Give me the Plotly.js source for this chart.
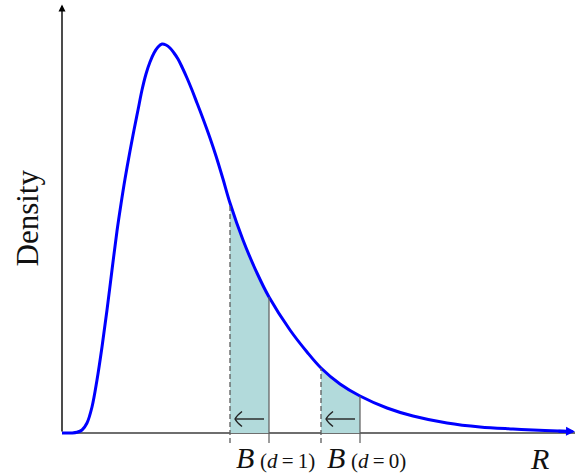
<!DOCTYPE html>
<html>
<head>
<meta charset="utf-8">
<script src="https://cdn.plot.ly/plotly-3.0.1.min.js"></script>
<style>
  html, body { margin: 0; padding: 0; background: #fff; }
  #chart { width: 575px; height: 476px; }
</style>
</head>
<body>
<div id="chart"></div>
<script>
// Density curve of R
const curveR = [0, 0.20, 0.30, 0.40, 0.50, 0.60, 0.70, 0.80, 0.90, 1.00, 1.10, 1.18, 1.26, 1.36, 1.44,
  1.52, 1.60, 1.68, 1.76, 1.84, 1.92, 2.00, 2.08, 2.16, 2.24, 2.32, 2.40, 2.50, 2.60, 2.70, 2.80, 2.96,
  3.08, 3.22, 3.36, 3.62, 3.90, 4.14, 4.56, 4.90, 5.18, 5.56, 5.96, 6.50, 7.02, 7.70, 8.36, 9.02, 9.66, 10.20];
const curveDensity = [0, 0, 0.0007, 0.003, 0.010, 0.026, 0.053, 0.086, 0.123, 0.163, 0.202, 0.229, 0.254,
  0.282, 0.303, 0.323, 0.343, 0.359, 0.371, 0.380, 0.386, 0.389, 0.388, 0.385, 0.380, 0.374, 0.366, 0.355,
  0.343, 0.330, 0.317, 0.295, 0.277, 0.254, 0.230, 0.193, 0.160, 0.136, 0.103, 0.081, 0.065, 0.049, 0.037,
  0.025, 0.017, 0.010, 0.006, 0.004, 0.0025, 0.0015];

// Each band runs from the shifted bound (dashed) up to the original bound (solid)
const bandNames = ["(<i>d</i>\u2009=\u20091)", "(<i>d</i>\u2009=\u20090)"];
const bandLow = [3.36, 5.18];
const bandHigh = [4.14, 5.96];

const xLabel = "<i>R</i>";
const yLabel = "Density";

const serif = "Liberation Serif, DejaVu Serif, serif";
const xMin = -1.24, xMax = 10.26, yMin = -0.043, yMax = 0.428;
const tickBottom = -0.010;
const smooth = 1.0;

function densityAt(r) {
  return curveDensity[curveR.indexOf(r)];
}

const traces = [];
const shapes = [];
const annotations = [];

bandLow.forEach((lo, k) => {
  const hi = bandHigh[k];
  const xs = [], ys = [];
  curveR.forEach((r, i) => { if (r >= lo && r <= hi) { xs.push(r); ys.push(curveDensity[i]); } });
  traces.push({
    x: xs, y: ys, type: "scatter", mode: "lines", fill: "tozeroy",
    fillcolor: "#b2dadb", line: { width: 0, shape: "spline", smoothing: smooth },
    hoverinfo: "skip", showlegend: false
  });
  shapes.push({ type: "line", xref: "x", yref: "y", x0: lo, x1: lo, y0: tickBottom, y1: densityAt(lo),
    line: { color: "#5c5c5c", width: 1.3, dash: "5px,3px" } });
  shapes.push({ type: "line", xref: "x", yref: "y", x0: hi, x1: hi, y0: tickBottom, y1: densityAt(hi),
    line: { color: "#5c5c5c", width: 1.2 } });

  // leftward arrow inside the band (shaft plus curved barbs)
  const mid = (lo + hi) / 2, ay = 0.014;
  const tip = mid - 0.29, tail = mid + 0.29;
  shapes.push({ type: "line", xref: "x", yref: "y", x0: tip + 0.01, x1: tail, y0: ay, y1: ay,
    line: { color: "#222", width: 1.4 } });
  shapes.push({ type: "path", xref: "x", yref: "y",
    path: `M ${tip + 0.14} ${ay + 0.0075} Q ${tip + 0.035} ${ay + 0.0035} ${tip} ${ay} ` +
          `Q ${tip + 0.035} ${ay - 0.0035} ${tip + 0.14} ${ay - 0.0075}`,
    line: { color: "#222", width: 1.4 } });

  // label: B with its (d = ...) subscript
  annotations.push({ x: lo + 0.30, y: -0.024, xref: "x", yref: "y", text: "<i>B</i>", showarrow: false,
    font: { family: serif, size: 30, color: "#111" }, xanchor: "center", yanchor: "middle" });
  annotations.push({ x: lo + 0.55, y: -0.028, xref: "x", yref: "y", text: bandNames[k], showarrow: false,
    font: { family: serif, size: 21, color: "#111" }, xanchor: "left", yanchor: "middle" });
});

// horizontal axis (grey) and vertical axis (black with arrow)
shapes.push({ type: "line", xref: "x", yref: "y", x0: 0, x1: xMax, y0: 0, y1: 0,
  line: { color: "#6e6e6e", width: 1.8 }, layer: "below" });
annotations.push({ x: 0, y: 0.4285, xref: "x", yref: "y", ax: 0, ay: 0, axref: "x", ayref: "y",
  showarrow: true, arrowhead: 2, arrowsize: 1, arrowwidth: 1.4, arrowcolor: "#000", text: "" });

traces.push({
  x: curveR, y: curveDensity, type: "scatter", mode: "lines",
  line: { color: "#0000ff", width: 3, shape: "spline", smoothing: smooth }, hoverinfo: "skip", showlegend: false
});

// arrowhead on the end of the curve
const n = curveR.length;
annotations.push({ x: curveR[n - 1] + 0.06, y: curveDensity[n - 1], xref: "x", yref: "y",
  ax: curveR[n - 1] - 0.3, ay: curveDensity[n - 1] + 0.0003, axref: "x", ayref: "y",
  showarrow: true, arrowhead: 2, arrowsize: 0.6, arrowwidth: 3, arrowcolor: "#0000ff", text: "" });

annotations.push({ x: 9.54, y: -0.025, xref: "x", yref: "y", text: xLabel, showarrow: false,
  font: { family: serif, size: 30, color: "#111" }, xanchor: "center", yanchor: "middle" });
annotations.push({ x: -0.70, y: 0.2145, xref: "x", yref: "y", text: yLabel, showarrow: false, textangle: -90,
  font: { family: serif, size: 31, color: "#111" }, xanchor: "center", yanchor: "middle" });

const layout = {
  width: 575, height: 476,
  margin: { l: 0, r: 0, t: 5, b: 0 },
  paper_bgcolor: "#fff", plot_bgcolor: "#fff",
  xaxis: { range: [xMin, xMax], visible: false, fixedrange: true },
  yaxis: { range: [yMin, yMax], visible: false, fixedrange: true },
  shapes: shapes, annotations: annotations, showlegend: false
};

Plotly.newPlot("chart", traces, layout, { staticPlot: true });
</script>
</body>
</html>
